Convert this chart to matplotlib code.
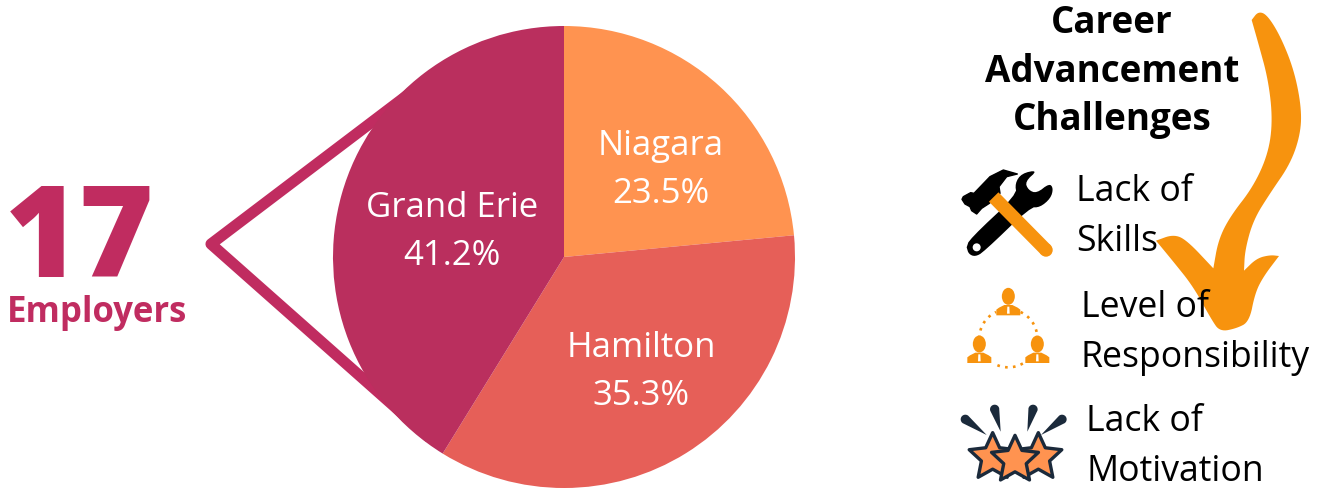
#!/usr/bin/env python3
import numpy as np
import matplotlib
matplotlib.use('Agg')
import matplotlib.pyplot as plt
from matplotlib.patches import Polygon, Circle, Ellipse

plt.rcParams['font.family'] = ['Open Sans', 'DejaVu Sans']

regions = ['Niagara', 'Hamilton', 'Grand Erie']
shares = [23.5, 35.3, 41.2]
colors = ['#FF9350', '#E65F58', '#BA2F5E']
title_lines = ['Career', 'Advancement', 'Challenges']
challenges = [['Lack of', 'Skills'], ['Level of', 'Responsibility'], ['Lack of', 'Motivation']]

ORANGE = '#F7930E'
CRIMSON = '#C02C60'
NAVY = '#1B2A3B'

fig = plt.figure(figsize=(13.28, 4.93), dpi=100)
ax = fig.add_axes([0, 0, 1, 1])

# callout triangle behind the pie
ax.add_patch(Polygon([(430, 78), (211, 244), (430, 438)], closed=False, fill=False,
                     ec=CRIMSON, lw=8, joinstyle='round', zorder=0.5))

# y axis is flipped so angles run clockwise on screen
ax.pie(shares, colors=colors, startangle=-90, counterclock=True, radius=231, center=(564, 257))
ax.set_xlim(0, 1328)
ax.set_ylim(493, 0)
ax.axis('off')

label_pos = [(661, 155), (641, 357), (452, 217)]
for name, val, (x, y) in zip(regions, shares, label_pos):
    ax.text(x, y, name, color='white', fontsize=25, ha='center', va='baseline')
    ax.text(x, y + 48, '%.1f%%' % val, color='white', fontsize=25, ha='center', va='baseline')

ax.text(5, 277, str(17), color=CRIMSON, fontsize=92, fontweight=800, ha='left', va='baseline')
ax.text(7, 322, 'Employers', color=CRIMSON, fontsize=25, fontweight='bold', ha='left', va='baseline')


def chaikin(pts, n=3):
    pts = np.array(pts, dtype=float)
    for _ in range(n):
        a = pts[:-1] * 0.75 + pts[1:] * 0.25
        b = pts[:-1] * 0.25 + pts[1:] * 0.75
        mid = np.empty((len(a) * 2, 2))
        mid[0::2] = a
        mid[1::2] = b
        pts = np.vstack([pts[0], mid, pts[-1]])
    return pts


def z1(pts):
    # zoomed crop coords of the icon column to picture pixels
    return [(950 + x / 3, 160 + y / 3) for x, y in pts]


def z2(pts):
    return [(1130 + x / 3, y / 3) for x, y in pts]


# big hand drawn arrow
arrow_parts = [
    [(365, 60), (385, 34), (412, 45), (452, 110), (492, 210), (514, 320), (512, 400), (482, 490),
     (420, 580), (370, 660), (345, 750), (342, 812)],
    [(342, 812), (380, 775), (420, 765), (447, 768)],
    [(447, 768), (400, 830), (375, 880), (358, 965), (320, 985), (270, 995), (245, 960), (190, 860),
     (130, 785), (78, 722)],
    [(78, 722), (130, 703), (170, 720), (250, 805)],
    [(250, 805), (265, 720), (300, 650), (370, 560), (415, 460), (428, 360), (415, 240), (385, 130), (365, 60)],
]
arrow = np.vstack([chaikin(z2(p)) for p in arrow_parts])
ax.add_patch(Polygon(arrow, closed=True, fc=ORANGE, ec='none', zorder=2))

# wrench
wrench = [(50, 262), (58, 238), (200, 105), (195, 70), (215, 40), (264, 30), (225, 65), (235, 90), (260, 100),
          (298, 70), (310, 85), (302, 115), (270, 142), (240, 142), (100, 277), (75, 290), (56, 282), (50, 262)]
ax.add_patch(Polygon(chaikin(z1(wrench), 2), closed=True, fc='black', ec='none', zorder=3))
ax.add_patch(Circle(z1([(80, 262)])[0], 4, fc='white', ec='none', zorder=3.1))
# hammer
hammer = [(36, 118), (40, 110), (62, 98), (72, 100), (120, 50), (160, 30), (202, 42), (170, 50), (147, 80), (150, 100),
          (118, 130), (95, 145), (80, 162), (65, 152), (60, 140), (45, 132), (36, 118)]
ax.add_patch(Polygon(z1(hammer), closed=True, fc='black', ec='black', lw=1, joinstyle='round', zorder=3.2))
handle = z1([(131, 111), (288, 270)])
ax.plot(*zip(*handle), color=ORANGE, lw=9.6, solid_capstyle='butt', zorder=3.3)
ax.add_patch(Circle(handle[1], 6.7, fc=ORANGE, ec='none', zorder=3.3))


# three people on a dotted ring
def person(cx, top):
    ax.add_patch(Ellipse(z1([(cx, top + 24)])[0], 13, 17, fc=ORANGE, ec='none', zorder=3))
    body = [(cx - 36, top + 81), (cx - 36, top + 64), (cx - 28, top + 58), (cx - 12, top + 50), (cx + 12, top + 50),
            (cx + 28, top + 58), (cx + 36, top + 64), (cx + 36, top + 81)]
    ax.add_patch(Polygon(z1(body), closed=True, fc=ORANGE, ec='none', zorder=3))
    tie = [(cx - 3, top + 55), (cx + 3, top + 55), (cx + 4, top + 76), (cx - 4, top + 76)]
    ax.add_patch(Polygon(z1(tie), closed=True, fc='white', ec='none', zorder=3.1))


person(175, 385)
person(88, 528)
person(262, 528)
for a0, a1 in [(-180, -115), (-65, 0), (60, 120)]:
    t = np.radians(np.linspace(a0, a1, 30))
    ring = z1(np.c_[175 + 87 * np.cos(t), 535 + 87 * np.sin(t)])
    ax.plot(*zip(*ring), color=ORANGE, lw=1.9, ls=(0, (1, 2)), zorder=3)


# stars and sparks
def star(cx, cy, r):
    ang = np.radians(-90 + 36 * np.arange(10))
    rad = np.where(np.arange(10) % 2 == 0, r, r * 0.48)
    return z1(np.c_[cx + rad * np.cos(ang), cy + rad * np.sin(ang)])


def spark(tip, head, w):
    tip, head = np.array(tip, float), np.array(head, float)
    d = (head - tip) / np.hypot(*(head - tip))
    n = np.array([-d[1], d[0]])
    t = np.radians(np.linspace(-90, 90, 12))
    cap = [head + w * (np.cos(a) * d + np.sin(a) * n) for a in t]
    return z1([tuple(tip)] + [tuple(c) for c in cap])


for tip, head in [((110, 825), (46, 778)), ((152, 815), (134, 748)), ((232, 815), (249, 748)), ((273, 825), (336, 778))]:
    ax.add_patch(Polygon(spark(tip, head, 14), closed=True, fc=NAVY, ec='none', zorder=3))
for cx, cy in [(128, 892), (265, 892), (195, 900)]:
    ax.add_patch(Polygon(star(cx, cy, 74), closed=True, fc='#FF9350', ec=NAVY, lw=2.4, joinstyle='round', zorder=3))

# text on the right goes above the arrow
for line, y in zip(title_lines, [33, 82, 130]):
    ax.text(1112, y, line, color='black', fontsize=26.5, fontweight='bold', ha='center', va='baseline', zorder=5)

text_pos = [(1076, 201), (1081, 317), (1086, 431)]
for lines, (x, y) in zip(challenges, text_pos):
    ax.text(x, y, lines[0], color='black', fontsize=25.7, ha='left', va='baseline', zorder=5)
    ax.text(x, y + 50, lines[1], color='black', fontsize=25.7, ha='left', va='baseline', zorder=5)

plt.savefig('out.png', dpi=100)
plt.close()
